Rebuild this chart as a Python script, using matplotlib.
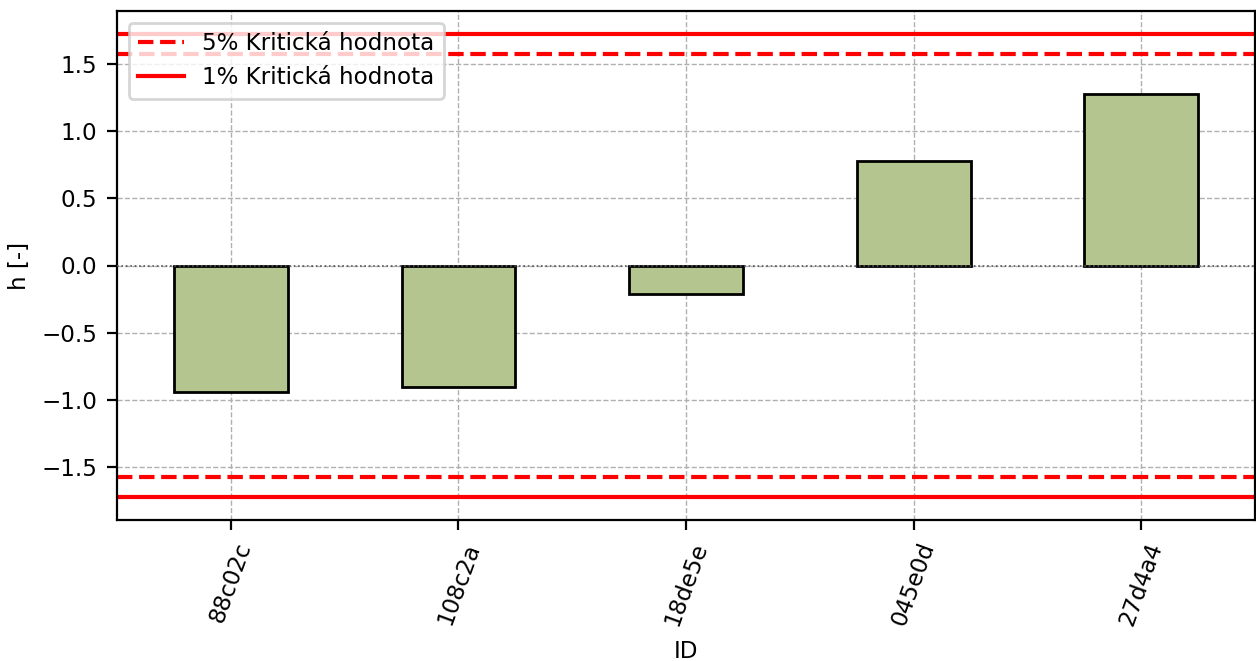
import matplotlib
matplotlib.use('Agg')
import matplotlib.pyplot as plt

# Mandel h statistic per laboratory
ids = ['88c02c', '108c2a', '18de5e', '045e0d', '27d4a4']
h_values = [-0.943, -0.906, -0.208, 0.779, 1.277]
crit_5 = 1.57
crit_1 = 1.72

dpi = 200
plt.rcParams['font.size'] = 8.3
fig = plt.figure(figsize=(1256 / dpi, 661 / dpi), dpi=dpi)
ax = fig.add_axes([117 / 1256, 1 - 520 / 661, 1138 / 1256, 509 / 661])

ax.set_axisbelow(True)
ax.grid(True, linestyle='--', color='#b0b0b0', linewidth=0.5)

x = range(len(ids))
ax.bar(x, h_values, width=0.5, color='#b4c58f', edgecolor='black', linewidth=1.0, zorder=2)
ax.axhline(0, color='#555555', linestyle=':', linewidth=0.6, zorder=3)

ax.axhline(crit_5, color='red', linestyle='--', linewidth=1.5, label='5% Kritická hodnota')
ax.axhline(crit_1, color='red', linestyle='-', linewidth=1.5, label='1% Kritická hodnota')
ax.axhline(-crit_5, color='red', linestyle='--', linewidth=1.5)
ax.axhline(-crit_1, color='red', linestyle='-', linewidth=1.5)

ax.set_xticks(list(x))
ax.set_xticklabels(ids, rotation=70)
ax.set_xlim(-0.5, 4.5)
ax.set_ylim(-1.89, 1.89)
ax.set_xlabel('ID')
ax.set_ylabel('h [-]')
ax.legend(loc='upper left')

fig.savefig('out.png', dpi=dpi)
